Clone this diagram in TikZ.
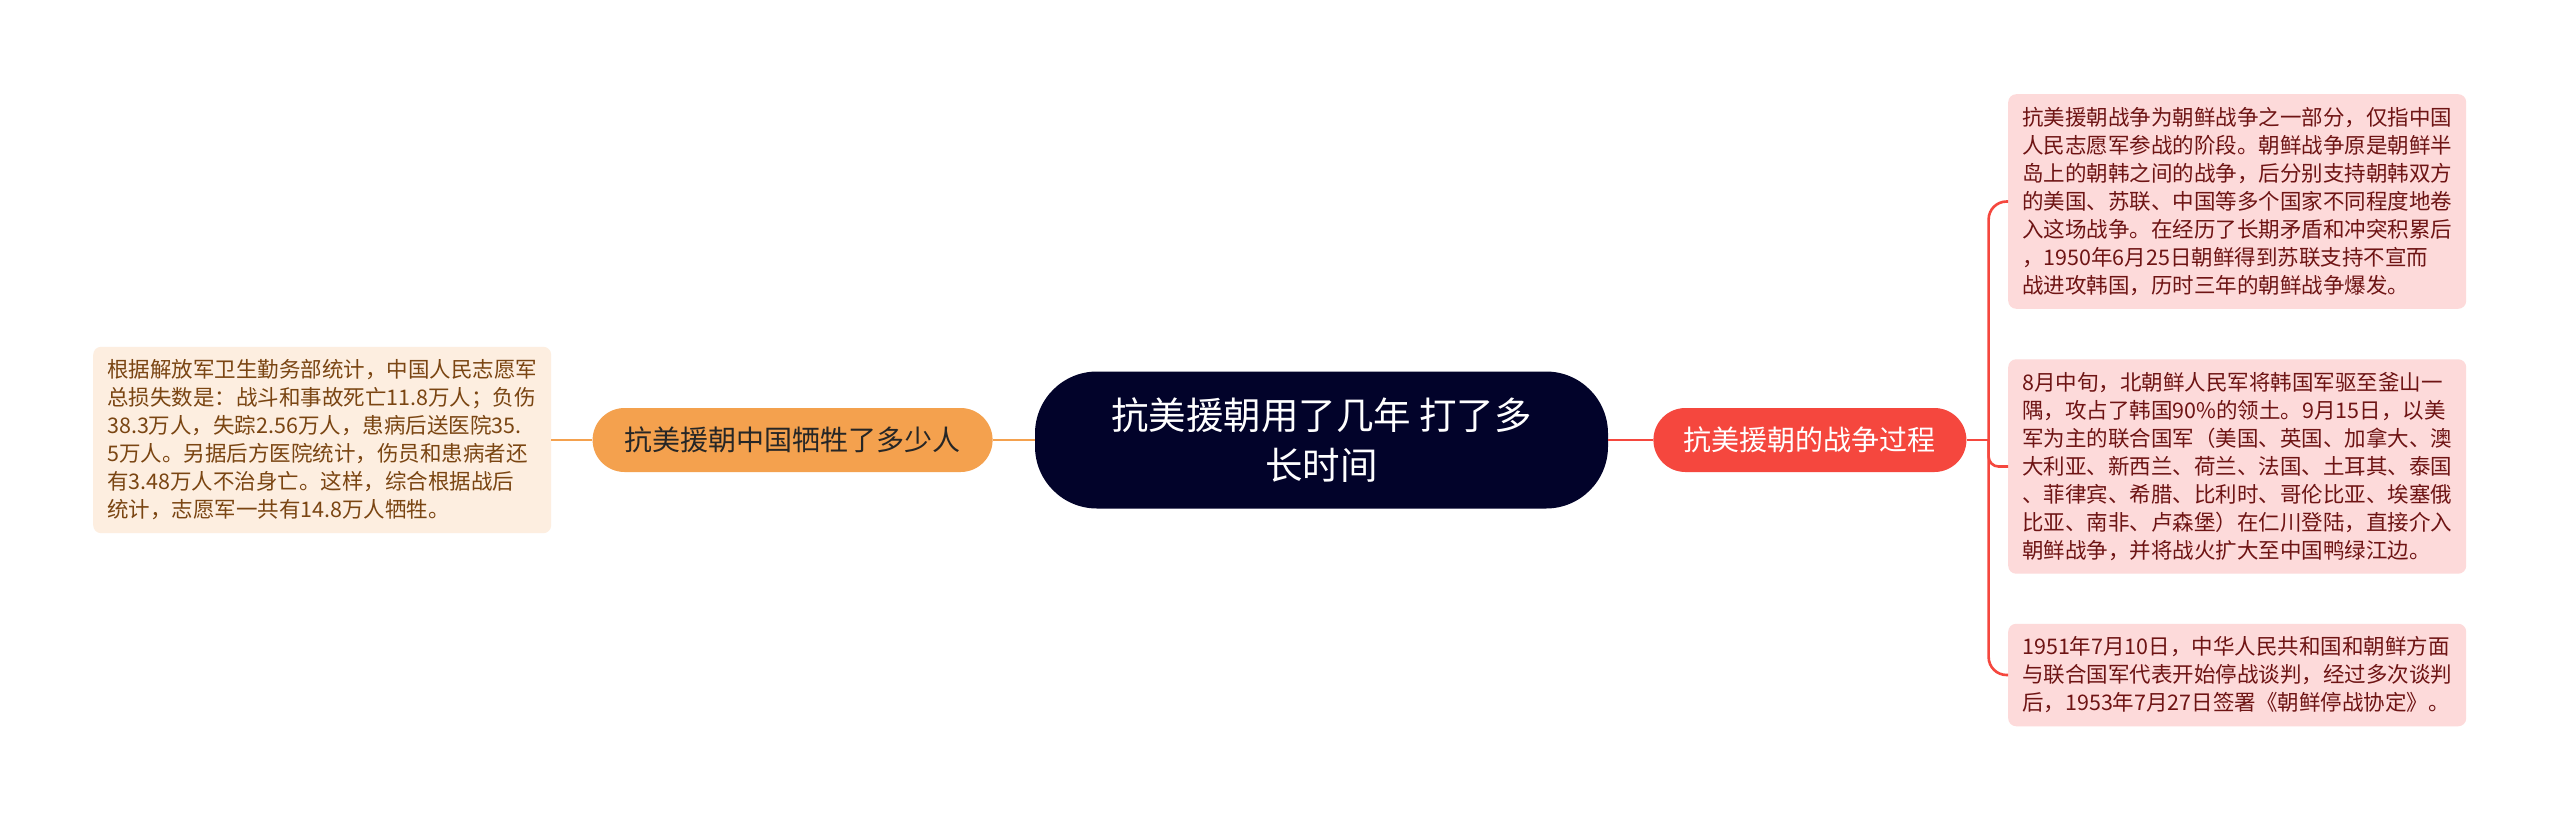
\documentclass[tikz,border=0pt]{standalone}
\usepackage{fontspec}
\setmainfont{Noto Sans CJK SC}
\usetikzlibrary{positioning}

\definecolor{topicbg}{HTML}{02032A}
\definecolor{losscol}{HTML}{F4A14E}
\definecolor{lossfill}{HTML}{FDEEE0}
\definecolor{losstext}{HTML}{7A4512}
\definecolor{warcol}{HTML}{F5473E}
\definecolor{warfill}{HTML}{FDDADA}
\definecolor{wartext}{HTML}{6E1414}

\begin{document}
\begin{tikzpicture}[
    x=1pt, y=-1pt,
    topic/.style={
        fill=topicbg,
        text=white,
        rounded corners=62pt,
        minimum width=573pt,
        minimum height=137pt,
        align=center,
        font=\fontsize{37.5}{50}\selectfont
    },
    branch/.style={
        rounded corners=32pt,
        minimum height=64pt,
        inner sep=0pt,
        font=\fontsize{28}{34}\selectfont
    },
    detail/.style={
        rounded corners=8pt,
        text width=430pt,
        inner xsep=14pt,
        inner ysep=13pt,
        align=left,
        font=\fontsize{21.5}{28}\selectfont
    },
    lossline/.style={draw=losscol, line width=2.6pt},
    warline/.style={draw=warcol, line width=2.6pt}
]
\fill[white] (0,0) rectangle (2560,823);
\useasboundingbox (0,0) rectangle (2560,823);

\node[topic] (topic) at (1321.5,440) {抗美援朝用了几年 打了多\\长时间};

% left side
\node[branch, fill=losscol, text=black!85, minimum width=400pt, left=42pt of topic] (loss) {抗美援朝中国牺牲了多少人};
\node[detail, fill=lossfill, text=losstext, left=41pt of loss] (lossinfo) {根据解放军卫生勤务部统计，中国人民志愿军\\总损失数是：战斗和事故死亡11.8万人；负伤\\38.3万人，失踪2.56万人，患病后送医院35.\\5万人。另据后方医院统计，伤员和患病者还\\有3.48万人不治身亡。这样，综合根据战后\\统计，志愿军一共有14.8万人牺牲。};

% right side
\node[branch, fill=warcol, text=white, minimum width=313pt, right=45pt of topic] (war) {抗美援朝的战争过程};
\coordinate[right=22pt of war.east] (fork);

\node[detail, fill=warfill, text=wartext, anchor=west] (origin) at (2008,201.5) {抗美援朝战争为朝鲜战争之一部分，仅指中国\\人民志愿军参战的阶段。朝鲜战争原是朝鲜半\\岛上的朝韩之间的战争，后分别支持朝韩双方\\的美国、苏联、中国等多个国家不同程度地卷\\入这场战争。在经历了长期矛盾和冲突积累后\\，1950年6月25日朝鲜得到苏联支持不宣而\\战进攻韩国，历时三年的朝鲜战争爆发。};
\node[detail, fill=warfill, text=wartext, anchor=west] (landing) at (2008,466.5) {8月中旬，北朝鲜人民军将韩国军驱至釜山一\\隅，攻占了韩国90\%的领土。9月15日，以美\\军为主的联合国军（美国、英国、加拿大、澳\\大利亚、新西兰、荷兰、法国、土耳其、泰国\\、菲律宾、希腊、比利时、哥伦比亚、埃塞俄\\比亚、南非、卢森堡）在仁川登陆，直接介入\\朝鲜战争，并将战火扩大至中国鸭绿江边。};
\node[detail, fill=warfill, text=wartext, anchor=west] (truce) at (2008,675) {1951年7月10日，中华人民共和国和朝鲜方面\\与联合国军代表开始停战谈判，经过多次谈判\\后，1953年7月27日签署《朝鲜停战协定》。};

\draw[lossline] (topic) -- (loss);
\draw[lossline] (loss) -- (lossinfo);
\draw[warline] (topic) -- (war);
\draw[warline] (war.east) -- (fork);
\draw[warline, rounded corners=18pt] (origin.west) -| (fork) |- (truce.west);
\draw[warline, rounded corners=10pt] (fork) |- (landing.west);
\end{tikzpicture}
\end{document}
